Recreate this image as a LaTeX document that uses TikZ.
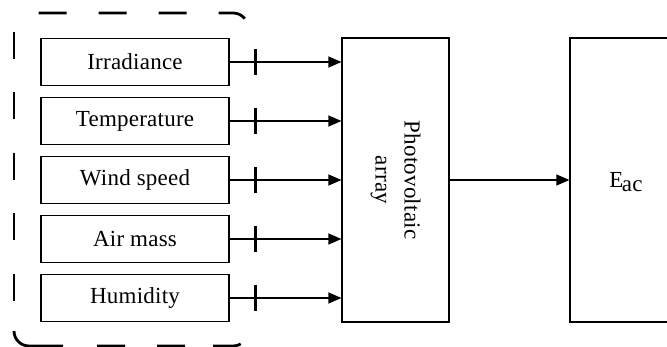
\documentclass[tikz,border=0pt]{standalone}
\usepackage{fontspec}
\setmainfont{Liberation Serif}[LetterSpace=1]
\usetikzlibrary{arrows.meta}
\begin{document}
\begin{tikzpicture}[x=1pt,y=-1pt,
  every node/.style={font=\fontsize{23}{29}\selectfont},
  inbox/.style={draw, line width=1.2pt, minimum width=188pt, minimum height=47pt, inner sep=0pt},
  bigbox/.style={draw, line width=1.2pt, minimum height=284pt, inner sep=0pt},
  arr/.style={line width=1.2pt, -{Triangle[length=13pt,width=11pt]}},
  tickbar/.style={fill=black, draw=none, minimum width=2.6pt, minimum height=26pt, inner sep=0pt, outer sep=0pt},
  dashbox/.style={line width=2.8pt}]
\useasboundingbox (0,0) rectangle (667,347);
\clip (0,0) rectangle (667,347);
% input boxes
\node[inbox] (irr) at (135,62) {Irradiance};
\node[inbox] (tmp) at (135,121) {Temperature};
\node[inbox] (wnd) at (135,180) {Wind speed};
\node[inbox] (air) at (135,239) {Air mass};
\node[inbox] (hum) at (135,298) {Humidity};
% photovoltaic array
\node[bigbox, minimum width=107pt] (pv) at (395.5,180) {};
\node[rotate=-90, align=center] (pvtext) at (pv.center) {Photovoltaic\\array};
% output
\node[bigbox, minimum width=110pt] (eac) at (625,180) {};
\node (eactext) at (626,182) {E\kern-1.5pt\raisebox{-3.5pt}{ac}};
% connectors
\foreach \n in {irr,tmp,wnd,air,hum}{
  \draw[arr] (\n.east) -- (\n.east -| pv.west) node[tickbar, pos=0.23] (tick-\n) {};
}
\draw[arr] (pv.east) -- (eac.west);
% dashed grouping border
\draw[dashbox, dash pattern=on 28pt off 32pt, dash phase=50pt]
  (248,28) arc[start angle=0, end angle=-90, radius=15] -- (14,13);
\draw[dashbox, dash pattern=on 27pt off 33.5pt, dash phase=41.5pt]
  (14,13) -- (14,331);
\draw[dashbox, dash pattern=on 57.6pt off 34pt on 28pt off 32pt on 28pt off 28pt on 28pt off 100pt]
  (14,331) arc[start angle=180, end angle=90, radius=15] -- (233,346)
  arc[start angle=90, end angle=0, radius=15];
\end{tikzpicture}
\end{document}
